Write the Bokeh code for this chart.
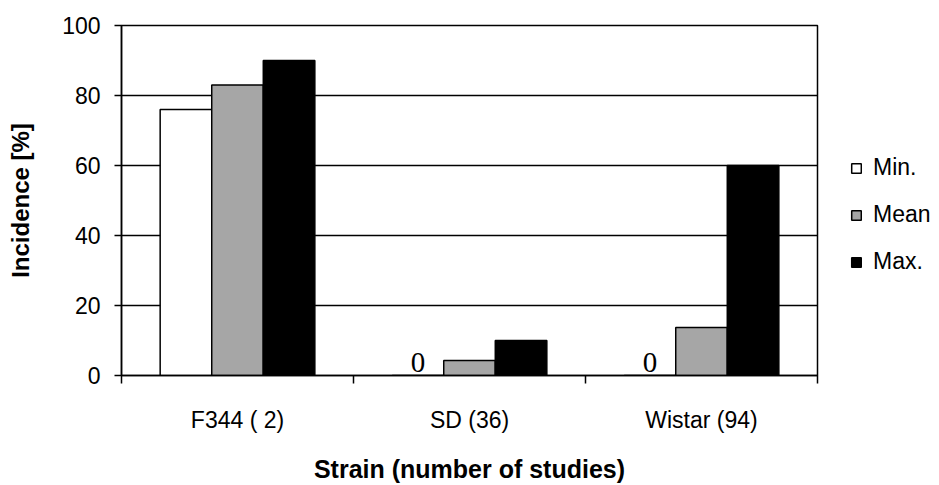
from bokeh.plotting import figure
from bokeh.layouts import row
from bokeh.models import Range1d, FixedTicker, Legend, LegendItem, ColumnDataSource
from bokeh.core.properties import value
from bokeh.embed import file_html
from bokeh.resources import INLINE

categories = ["F344 ( 2)", "SD (36)", "Wistar (94)"]
series_names = ["Min.", "Mean", "Max."]
min_vals = [76, 0, 0]
mean_vals = [83, 4.3, 13.7]
max_vals = [90, 10, 60]
y_ticks = [0, 20, 40, 60, 80, 100]

series_vals = [min_vals, mean_vals, max_vals]
colors = ["#FFFFFF", "#A6A6A6", "#000000"]

FONT = "Liberation Sans"
TICK_FS = "23px"
TITLE_FS = "24px"

p = figure(width=825, height=485, output_backend="svg", toolbar_location=None,
           x_range=Range1d(0, len(categories)), y_range=Range1d(0, 100),
           min_border_left=121, min_border_right=8, min_border_top=25, min_border_bottom=99)
p.background_fill_color = "white"
p.border_fill_color = "white"
p.outline_line_color = "black"
p.outline_line_width = 1.5

bw = 1.0 / 4.5
offsets = [-bw, 0.0, bw]
for name, vals, col, off in zip(series_names, series_vals, colors, offsets):
    xs = [i + 0.5 + off for i in range(len(categories))]
    src = ColumnDataSource(dict(x=xs, top=vals))
    p.vbar(x="x", top="top", bottom=0, width=bw, source=src,
           fill_color=col, line_color="black", line_width=1.5)

# zero labels
zx, zy, zt = [], [], []
for i, v in enumerate(min_vals):
    if v == 0:
        zx.append(i + 0.5 + offsets[0]); zy.append(v); zt.append("0")
p.text(x=zx, y=zy, text=zt, text_font=value("Liberation Serif"), text_font_size="29px",
       text_align="center", text_baseline="alphabetic", y_offset=-13, text_color="black")

# x axis
xax = p.xaxis[0]
centers = [i + 0.5 for i in range(len(categories))]
xax.ticker = FixedTicker(ticks=centers, minor_ticks=list(range(len(categories) + 1)))
xax.major_label_overrides = {c: lab for c, lab in zip(centers, categories)}
xax.major_tick_out = 0
xax.major_tick_in = 0
xax.minor_tick_out = 8
xax.minor_tick_in = 0
xax.minor_tick_line_color = "black"
xax.minor_tick_line_width = 1.5
xax.axis_line_color = "black"
xax.axis_line_width = 1.5
xax.major_label_text_font = FONT
xax.major_label_text_font_size = TICK_FS
xax.major_label_text_color = "black"
xax.major_label_standoff = 23
xax.axis_label = "Strain (number of studies)"
xax.axis_label_text_font = FONT
xax.axis_label_text_font_style = "bold"
xax.axis_label_text_font_size = "25px"
xax.axis_label_text_color = "black"
xax.axis_label_standoff = 19

# y axis
yax = p.yaxis[0]
yax.ticker = FixedTicker(ticks=y_ticks, minor_ticks=[])
yax.major_tick_out = 7
yax.major_tick_in = 0
yax.major_tick_line_width = 1.5
yax.axis_line_width = 1.5
yax.major_label_text_font = FONT
yax.major_label_text_font_size = TICK_FS
yax.major_label_text_color = "black"
yax.major_label_standoff = 14
yax.axis_label = "Incidence [%]"
yax.axis_label_text_font = FONT
yax.axis_label_text_font_style = "bold"
yax.axis_label_text_font_size = TITLE_FS
yax.axis_label_text_color = "black"
yax.axis_label_standoff = 25

p.xgrid.visible = False
p.ygrid.ticker = FixedTicker(ticks=y_ticks)
p.ygrid.grid_line_color = "black"
p.ygrid.grid_line_width = 1.5

# legend panel (separate figure to the right; its frame is aligned with the main frame)
lg = figure(width=114, height=485, output_backend="svg", toolbar_location=None,
            x_range=Range1d(0, 1), y_range=Range1d(0, 1),
            min_border=0, outline_line_color=None)
lg.axis.visible = False
lg.grid.visible = False
items = []
for name, col in zip(series_names, colors):
    # hidden placeholder renderer: only its legend swatch is shown
    r = lg.vbar(x=[-10], top=[-10], bottom=[-11], width=0.1,
                fill_color=col, line_color="black", line_width=1.5, visible=False)
    items.append(LegendItem(label=name, renderers=[r]))
legend = Legend(items=items, location=(25, 100), orientation="vertical",
                glyph_width=12, glyph_height=12, label_height=26, spacing=20,
                label_standoff=11, padding=0, margin=0,
                border_line_color=None, background_fill_alpha=0,
                inactive_fill_alpha=0,
                label_text_font=FONT, label_text_font_size=TICK_FS, label_text_color="black")
lg.add_layout(legend, "center")

layout = row(p, lg, spacing=0)
open("out.html", "w").write(file_html(layout, INLINE))
